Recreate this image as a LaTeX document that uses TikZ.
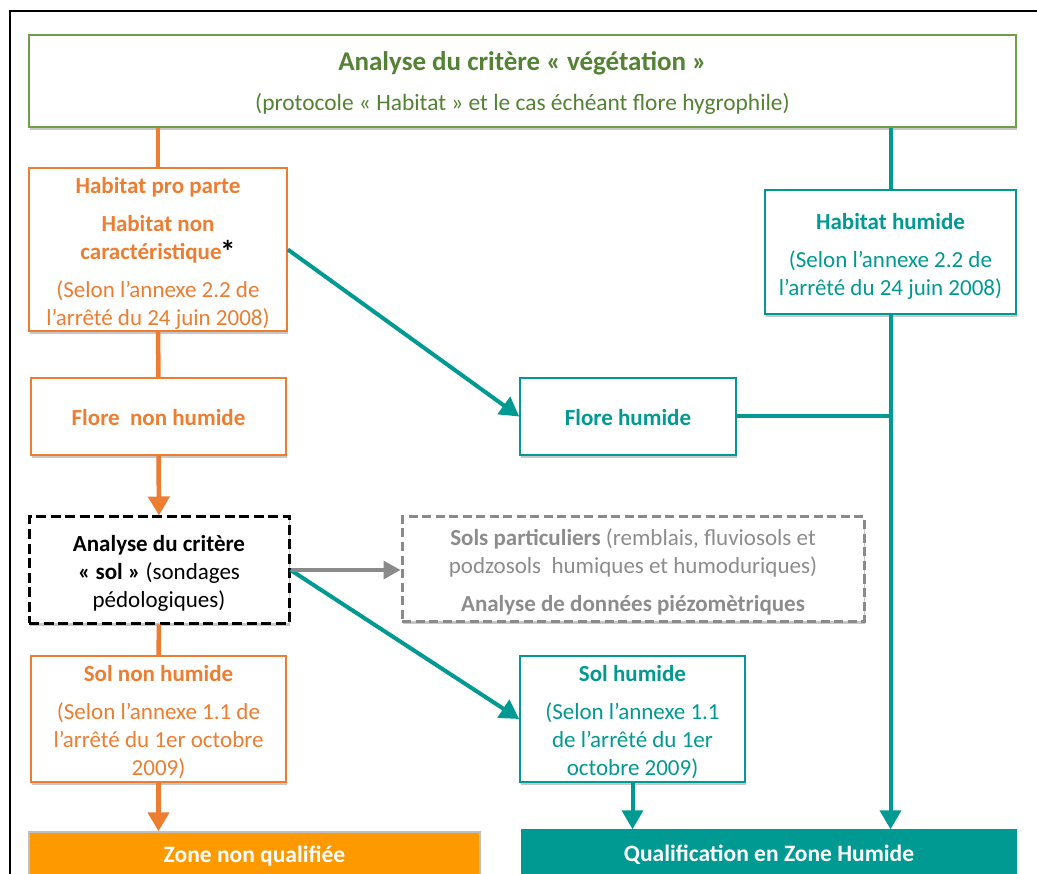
\documentclass[tikz,border=0pt]{standalone}
\usepackage{fontspec}
\setmainfont{Carlito}
\usetikzlibrary{arrows.meta,shadows,calc}

\definecolor{vgreen}{HTML}{548235}
\definecolor{vgreenb}{HTML}{6E9E48}
\definecolor{vorange}{HTML}{ED7D31}
\definecolor{vorangefill}{HTML}{FF9900}
\definecolor{vteal}{HTML}{009A93}
\definecolor{vgray}{HTML}{8A8A8A}
\definecolor{vgraytext}{HTML}{8C8C8C}

\begin{document}
\begin{tikzpicture}[x=1pt,y=-1pt,
  box/.style={draw, fill=white, line width=1.6pt, inner sep=0pt,
     drop shadow={shadow xshift=1pt, shadow yshift=-3pt, opacity=0.22, fill=black}},
  gbox/.style={box, draw=vgreenb, line width=2pt},
  obox/.style={box, draw=vorange},
  tbox/.style={box, draw=vteal},
  kbox/.style={box, draw=black, line width=3pt, dash pattern=on 10pt off 4.5pt},
  sbox/.style={box, draw=vgray, line width=3pt, dash pattern=on 9pt off 4.5pt},
  txt/.style={inner sep=0pt, align=center, font=\fontsize{23}{28}\selectfont},
  gtxt/.style={txt, text=vgreen},
  otxt/.style={txt, text=vorange},
  ttxt/.style={txt, text=vteal},
  ktxt/.style={txt, text=black},
  stxt/.style={txt, text=vgraytext},
  fillbox/.style={draw, line width=1.5pt, inner sep=0pt, text=white,
     font=\fontsize{23.5}{26}\selectfont\bfseries,
     drop shadow={shadow xshift=1pt, shadow yshift=-3pt, opacity=0.22, fill=black}},
  oline/.style={draw=vorange, line width=4.5pt},
  tline/.style={draw=vteal, line width=4pt},
  gline/.style={draw=vgray, line width=3.2pt},
  tip/.style={-{Triangle[length=19pt,width=21pt]}},
]
\useasboundingbox (0,0) rectangle (1037,874);
\clip (0,0) rectangle (1037,874);
\fill[white] (0,0) rectangle (1037,874);

% outer frame
\coordinate (fbl) at (10,880);
\coordinate (ftl) at (10,11);
\coordinate (ftr) at (1040,11);
\draw[black, line width=1.8pt] (fbl) -- (ftl) -- (ftr);

% boxes
\node[gbox, minimum width=987, minimum height=92] (top) at (522.5,81) {};
\node[gtxt] (topT) at (522.5,83.5)
  {{\fontsize{27}{28}\selectfont\bfseries Analyse du critère « végétation »}\\[12pt]
   {\fontsize{23.4}{28}\selectfont (protocole « Habitat » et le cas échéant flore hygrophile)}};

\node[obox, minimum width=258, minimum height=163] (hab) at (158,249.5) {};
\node[otxt] (habT) at (158,253.5)
  {{\bfseries Habitat pro parte}\\[10pt]
   {\bfseries Habitat non}\\
   {\bfseries caractéristique}{\color{black}\kern-1.5pt\raisebox{-3pt}{\fontsize{31}{31}\selectfont\bfseries *}}\\[10pt]
   (Selon l’annexe 2.2 de\\
   l’arrêté du 24 juin 2008)};

\node[obox, minimum width=255, minimum height=77] (flnh) at (158.5,416.5) {};
\node[otxt, font=\fontsize{23}{28}\selectfont\bfseries] (flnhT) at (158.5,417.5)
  {Flore\ \ non humide};

\node[kbox, minimum width=260, minimum height=106] (sol) at (159,570) {};
\node[ktxt] (solT) at (159,573)
  {{\bfseries Analyse du critère}\\
   {\bfseries « sol »} (sondages\\
   pédologiques)};

\node[obox, minimum width=255, minimum height=126] (solnh) at (158.5,719) {};
\node[otxt] (solnhT) at (158.5,722.5)
  {{\bfseries Sol non humide}\\[10pt]
   (Selon l’annexe 1.1 de\\
   l’arrêté du 1er octobre\\
   2009)};

\node[fillbox, draw=black!25, fill=vorangefill, minimum width=451, minimum height=48] (zone) at (254.5,856)
  {Zone non qualifiée};

\node[tbox, minimum width=251, minimum height=124] (habh) at (890.5,252) {};
\node[ttxt] (habhT) at (890.5,256)
  {{\bfseries Habitat humide}\\[10pt]
   (Selon l’annexe 2.2 de\\
   l’arrêté du 24 juin 2008)};

\node[tbox, minimum width=216, minimum height=77] (flh) at (628,416.5) {};
\node[ttxt, font=\fontsize{23}{28}\selectfont\bfseries] (flhT) at (628,418)
  {Flore humide};

\node[sbox, minimum width=462, minimum height=104] (sp) at (633,569) {};
\node[stxt] (spT) at (633,571.5)
  {{\bfseries Sols particuliers} (remblais, fluviosols et\\
   podzosols\ \ humiques et humoduriques)\\[10pt]
   {\bfseries Analyse de données piézomètriques}};

\node[tbox, minimum width=225, minimum height=126] (solh) at (632.5,719) {};
\node[ttxt] (solhT) at (632.5,722.5)
  {{\bfseries Sol humide}\\[10pt]
   (Selon l’annexe 1.1\\
   de l’arrêté du 1er\\
   octobre 2009)};

\node[fillbox, draw=vteal, fill=vteal, minimum width=494, minimum height=50] (qual) at (769,855)
  {Qualification en Zone Humide};

% connectors – orange column
\draw[oline] (top.south -| hab.north) -- (hab.north);
\draw[oline] (hab.south) -- (flnh.north);
\draw[oline, tip] (flnh.south) -- (sol.north);
\draw[oline] (sol.south) -- (solnh.north);
\draw[oline, tip] (solnh.south) -- (solnh.south |- zone.north);

% connectors – teal
\draw[tline] (top.south -| habh.north) -- (habh.north);
\draw[tline, tip] (habh.south) -- (habh.south |- qual.north);
\coordinate (junc) at (flh.east -| habh.south);
\draw[tline] (flh.east) -- (junc);
\draw[tline, tip] (hab.east) -- (flh.west);
\draw[tline, tip] (sol.east) -- (solh.west);
\draw[tline, tip] (solh.south) -- (solh.south |- qual.north);

% connector – gray
\draw[gline, -{Triangle[length=17pt,width=18pt]}] (sol.east) -- (sol.east -| sp.west);
\end{tikzpicture}
\end{document}
